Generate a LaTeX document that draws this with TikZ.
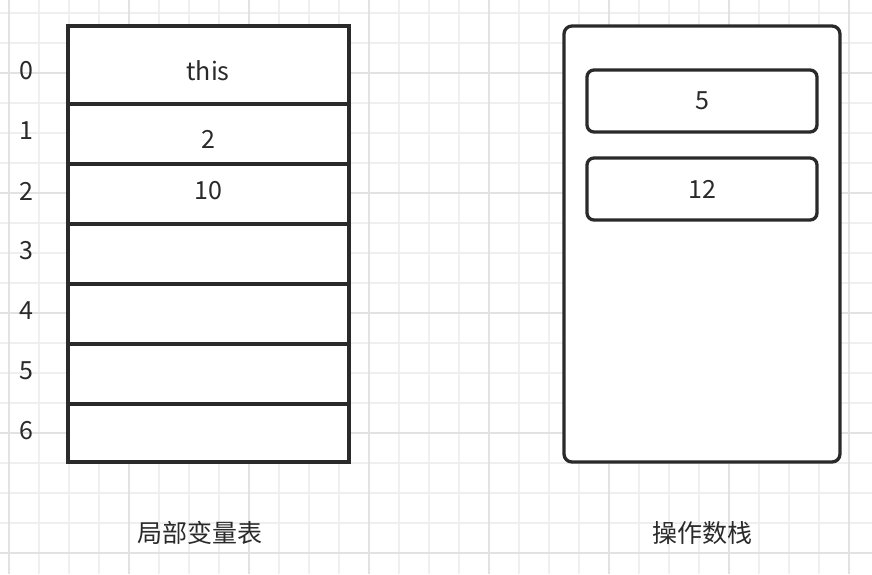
\documentclass[tikz,border=0pt]{standalone}
\usepackage{fontspec}
\setmainfont{Noto Sans CJK SC}
\usetikzlibrary{positioning}
\definecolor{inkGray}{HTML}{2A2A2A}
\definecolor{gridMinor}{HTML}{EFEFEF}
\definecolor{gridMajor}{HTML}{E2E2E2}
\tikzset{
  slotCell/.style = {draw=inkGray, fill=white, line width=3.3pt, outer sep=0pt,
                     inner sep=0pt, minimum width=281pt},
  stackFrame/.style = {draw=inkGray, fill=white, line width=3.3pt, outer sep=0pt,
                       rounded corners=8pt, minimum width=276pt, minimum height=436pt},
  stackItem/.style = {draw=inkGray, fill=white, line width=3.3pt, outer sep=0pt,
                      rounded corners=7pt, inner sep=0pt, minimum width=230pt,
                      minimum height=62pt, text=inkGray, font=\fontsize{25}{29}\selectfont},
  cellText/.style = {text=inkGray, inner sep=0pt, font=\fontsize{25}{29}\selectfont}
}

\begin{document}
\begin{tikzpicture}[x=1pt,y=-1pt]
    \useasboundingbox (0,0) rectangle (872,574);
    \fill[white] (0,0) rectangle (872,574);
    % Minor grid lines
    \foreach \gx in {0,...,28}
    \draw[gridMinor, line width=1.3pt] (9+30*\gx,0) -- (9+30*\gx,574);
    \foreach \gy in {0,...,18}
    \draw[gridMinor, line width=1.3pt] (0,13+30*\gy) -- (872,13+30*\gy);
    % Major grid lines
    \foreach \gx in {0,...,7}
    \draw[gridMajor, line width=1.7pt] (9+120*\gx,0) -- (9+120*\gx,574);
    \foreach \gy in {0,...,4}
    \draw[gridMajor, line width=1.7pt] (0,73+120*\gy) -- (872,73+120*\gy);
    % Local variable table, first slot then the rest below it
    \node[slotCell, minimum height=78pt] (cell0) at (208.5,65) {};
    \foreach \i/\h [evaluate=\i as \j using int(\i-1)] in {1/60,2/60,3/60,4/60,5/60,6/58}
    \node[slotCell, minimum height=\h pt, below=0pt of cell\j] (cell\i) {};
    % Slot indices
    \foreach \idx in {0,...,6}
    \node[cellText] (idx\idx) at (26,71+60*\idx) {\idx};
    % Slot values
    \node[cellText] (valThis) at (208,71) {this};
    \node[cellText] (valTwo) at (208,139) {2};
    \node[cellText] (valTen) at (208,191) {10};
    % Operand stack with its entries
    \node[stackFrame] (opStack) at (702,244) {};
    \node[stackItem] (item5) at (702,101) {\raisebox{-2pt}{5}};
    \node[stackItem, below=26pt of item5] (item12) {12};
    % Captions
    \node[cellText] (localLabel) at (200,533) {局部变量表};
    \node[cellText] (stackLabel) at (702,533) {操作数栈};
\end{tikzpicture}
\end{document}
